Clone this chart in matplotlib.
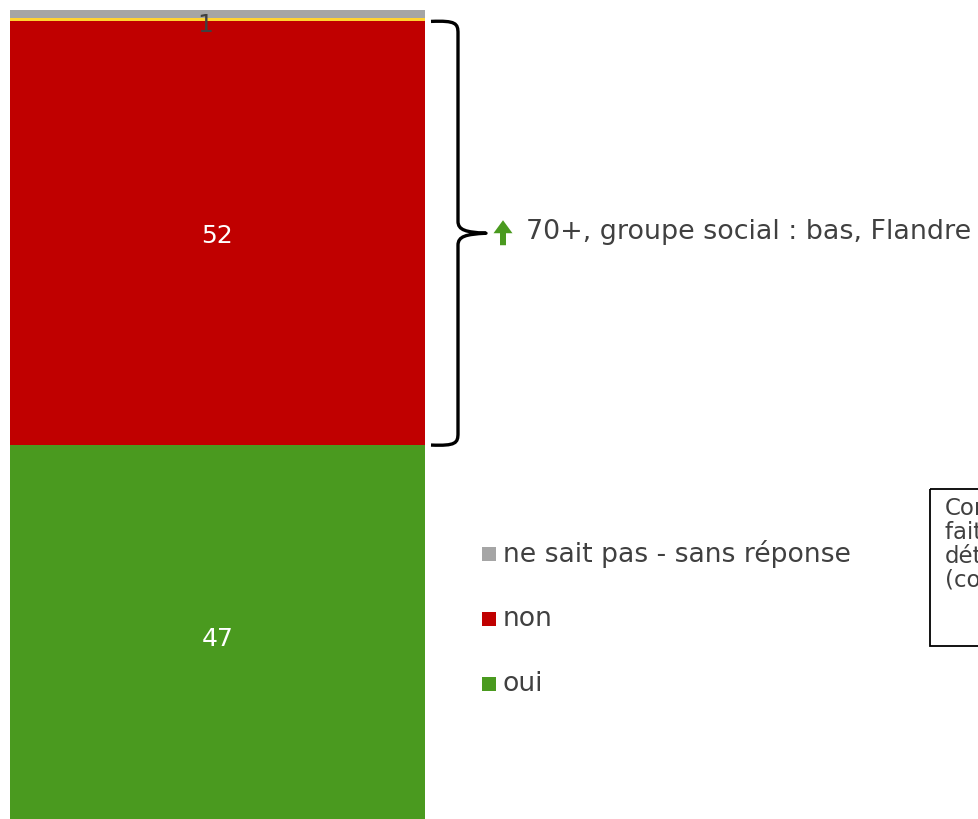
import matplotlib
matplotlib.use("Agg")
import matplotlib.pyplot as plt
from matplotlib.path import Path
from matplotlib.patches import PathPatch, Rectangle, FancyArrow

plt.rcParams['font.family'] = ['DejaVu Sans']

# ---- data ----
categories = ["oui", "non", "_sep", "ne sait pas - sans réponse"]
values = [47, 52, 0.4, 1]
colors = ["#4A9A1F", "#C00000", "#FFD232", "#A5A5A5"]
labels_shown = ["47", "52", "", "1"]
label_colors = ["white", "white", None, "#404040"]
legend_items = ["ne sait pas - sans réponse", "non", "oui"]
legend_colors = ["#A5A5A5", "#C00000", "#4A9A1F"]
annotation = "70+, groupe social : bas, Flandre"
box_lines = ["Comparaison", "faite avec", "détaillée", "(comparaison)"]

W, H = 979, 820
fig = plt.figure(figsize=(W / 100, H / 100), dpi=100)
ax = fig.add_axes([10 / W, 0, 415 / W, 809 / H])
bottom = 0
for v, c, lab, lc in zip(values, colors, labels_shown, label_colors):
    ax.bar(0, v, bottom=bottom, width=1, color=c, linewidth=0)
    if lab:
        is_small = lab == "1"
        ax.annotate(lab, (0, bottom + v / 2),
                    xytext=(-9 if is_small else 0, -7 if is_small else -1),
                    textcoords="offset points", ha="center", va="center",
                    fontsize=18, color=lc)
    bottom += v
ax.set_xlim(-0.5, 0.5)
ax.set_ylim(1.1, bottom)
ax.axis("off")

# overlay in pixel coords
ov = fig.add_axes([0, 0, 1, 1], zorder=-1)
ov.set_xlim(0, W)
ov.set_ylim(H, 0)
ov.axis("off")

def data_to_px(y):
    d = ax.transData.transform((0, y))
    return ov.transData.inverted().transform(d)[1]

y_top = data_to_px(values[0] + values[1])
y_bot = data_to_px(values[0])
y_mid = (y_top + y_bot) / 2

# curly brace
x0, x1, xt = 431, 458, 486
r = 12
verts = [
    (x0, y_top), (x1 - 2, y_top - 1), (x1, y_top + 2), (x1, y_top + r),
    (x1, y_mid - r),
    (x1, y_mid - 3), (x1 + 8, y_mid - 1), (xt, y_mid),
    (x1 + 8, y_mid + 1), (x1, y_mid + 3), (x1, y_mid + r),
    (x1, y_bot - r),
    (x1, y_bot - 2), (x1 - 2, y_bot + 1), (x0, y_bot),
]
codes = [Path.MOVETO, Path.CURVE4, Path.CURVE4, Path.CURVE4,
         Path.LINETO,
         Path.CURVE4, Path.CURVE4, Path.CURVE4,
         Path.CURVE4, Path.CURVE4, Path.CURVE4,
         Path.LINETO,
         Path.CURVE4, Path.CURVE4, Path.CURVE4]
ov.add_patch(PathPatch(Path(verts, codes), fill=False, lw=2.4, edgecolor="black",
                       capstyle="butt", joinstyle="round"))

# green up arrow
ov.add_patch(FancyArrow(503, y_mid + 12, 0, -25, width=6, head_width=19,
                        head_length=13, length_includes_head=True,
                        color="#4A9A1F", linewidth=0))
ov.text(526, y_mid - 2, annotation, fontsize=19.4, color="#404040",
        ha="left", va="center")

# legend
for i, (t, c) in enumerate(zip(legend_items, legend_colors)):
    yy = 555 + 65 * i
    ov.add_patch(Rectangle((482, yy - 7), 14, 14, color=c, linewidth=0))
    ov.text(503, yy - 1, t, fontsize=19.2, color="#404040", ha="left", va="center")

# right box (partially cut by the figure edge, as in the reference)
ov.add_patch(Rectangle((930, 490), 80, 157, fill=False, edgecolor="black",
                       linewidth=1.3, clip_on=False))
for i, t in enumerate(box_lines):
    ov.text(945, 509 + 24 * i, t, fontsize=16.5, color="#404040",
            ha="left", va="center")

fig.savefig("out.png", dpi=100)
